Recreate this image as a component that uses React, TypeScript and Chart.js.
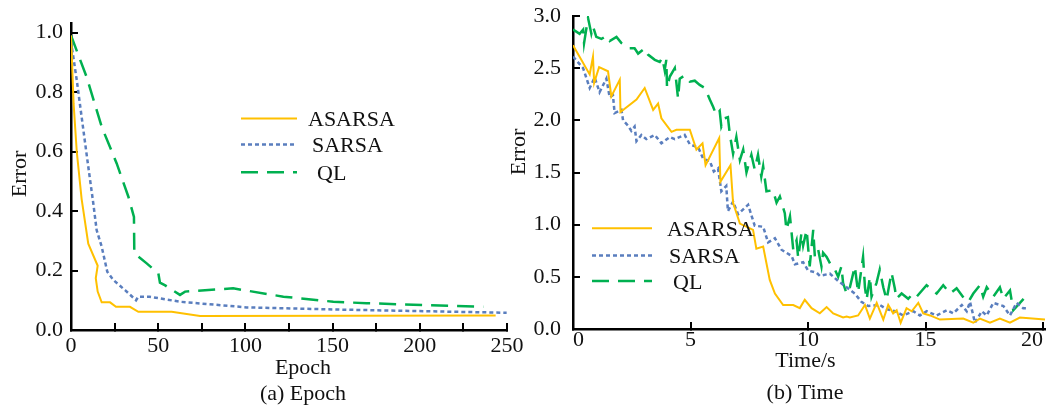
import React, { useEffect, useRef } from 'react';
import { Chart, registerables } from 'chart.js';

Chart.register(...registerables);

// ---------- (a) Epoch ----------
const epochAsarsaX = [0, 1.5, 3.3, 6.1, 9.9, 15.3, 14.2, 15.3, 17.6, 22.4, 25.8, 33.8, 38.6, 57.7, 74, 243.5];
const epochAsarsaY = [0.99, 0.76, 0.6, 0.44, 0.29, 0.216, 0.174, 0.129, 0.093, 0.093, 0.078, 0.078, 0.061, 0.061, 0.047, 0.049];
const epochSarsaX = [0, 3.3, 6.1, 9.4, 12.8, 14.7, 17.6, 20.8, 24.3, 31, 37.3, 38.6, 45, 62.5, 100.7, 150.4, 249.8];
const epochSarsaY = [0.97, 0.84, 0.716, 0.571, 0.425, 0.336, 0.28, 0.196, 0.168, 0.134, 0.1, 0.112, 0.112, 0.095, 0.076, 0.069, 0.058];
const epochQlX = [0, 9, 17.6, 26.2, 32.9, 36.1, 36.3, 43.4, 50.1, 51, 54, 62.5, 65.4, 93, 121.8, 150.4, 169.5, 236.4];
const epochQlY = [0.99, 0.85, 0.683, 0.56, 0.448, 0.38, 0.258, 0.224, 0.19, 0.159, 0.15, 0.118, 0.129, 0.14, 0.112, 0.095, 0.09, 0.078];

// ---------- (b) Time ----------
const timeAsarsaX = [0, 0.71, 0.85, 0.9, 1.11, 1.49, 1.63, 1.99, 2.02, 2.7, 3.05, 3.41, 3.62, 3.76, 4.19, 4.4, 4.97, 5.25, 5.51, 5.64, 6.22, 6.27, 6.7, 6.81, 7.1, 7.66, 7.8, 8.09, 8.37, 8.59, 8.94, 9.37, 9.65, 9.86, 10.15, 10.5, 10.79, 11.07, 11.49, 11.64, 11.78, 12.13, 12.42, 12.63, 12.92, 13.2, 13.41, 13.62, 13.77, 13.94, 14.19, 14.41, 14.69, 14.9, 15.19, 15.61, 16.6, 17.03, 17.31, 17.74, 18.16, 18.59, 19.01, 20.08];
const timeAsarsaY = [2.72, 2.44, 2.61, 2.36, 2.51, 2.47, 2.23, 2.39, 2.08, 2.2, 2.31, 2.1, 2.16, 2.02, 1.89, 1.91, 1.91, 1.72, 1.78, 1.57, 1.83, 1.41, 1.57, 1.21, 1.01, 0.95, 0.77, 0.79, 0.47, 0.34, 0.23, 0.23, 0.2, 0.28, 0.2, 0.15, 0.21, 0.15, 0.11, 0.12, 0.11, 0.13, 0.23, 0.1, 0.25, 0.09, 0.23, 0.15, 0.18, 0.06, 0.2, 0.17, 0.25, 0.15, 0.13, 0.09, 0.1, 0.06, 0.1, 0.06, 0.1, 0.06, 0.11, 0.09];
const timeSarsaX = [0, 0.43, 0.71, 0.92, 1.13, 1.42, 1.56, 1.7, 1.77, 2.06, 2.13, 2.34, 2.48, 2.62, 2.7, 2.91, 3.12, 3.48, 3.76, 4.12, 4.33, 4.75, 4.97, 5.33, 5.54, 5.82, 5.99, 6.17, 6.31, 6.52, 6.59, 6.81, 7.02, 7.45, 7.73, 8.09, 8.3, 8.59, 8.87, 9.3, 9.44, 9.79, 10.0, 10.36, 10.5, 10.93, 11.28, 11.64, 11.99, 12.27, 12.56, 13.06, 13.34, 13.7, 14.05, 14.48, 14.76, 15.05, 15.47, 15.9, 16.18, 16.54, 16.75, 16.89, 17.1, 17.39, 17.6, 17.88, 18.31, 18.59, 18.87, 19.15, 19.37];
const timeSarsaY = [2.61, 2.5, 2.31, 2.41, 2.27, 2.4, 2.22, 2.24, 2.07, 2.1, 2.0, 1.95, 1.9, 1.94, 1.8, 1.86, 1.82, 1.86, 1.78, 1.84, 1.82, 1.86, 1.77, 1.74, 1.63, 1.61, 1.51, 1.54, 1.32, 1.37, 1.13, 1.22, 1.1, 1.19, 0.99, 0.98, 0.83, 0.87, 0.76, 0.7, 0.62, 0.64, 0.56, 0.54, 0.51, 0.53, 0.46, 0.4, 0.34, 0.26, 0.22, 0.23, 0.19, 0.17, 0.13, 0.17, 0.13, 0.17, 0.13, 0.18, 0.15, 0.23, 0.17, 0.26, 0.06, 0.17, 0.13, 0.25, 0.22, 0.13, 0.25, 0.2, 0.2];
const timeQlX = [0, 0.14, 0.28, 0.43, 0.47, 0.64, 0.78, 0.85, 0.99, 1.21, 1.42, 1.56, 1.85, 2.06, 2.41, 2.62, 2.77, 3.05, 3.19, 3.48, 3.69, 3.8, 3.9, 3.97, 4.0, 4.12, 4.33, 4.47, 4.54, 4.75, 4.97, 5.18, 5.39, 5.61, 5.82, 5.96, 6.1, 6.24, 6.31, 6.45, 6.59, 6.67, 6.81, 6.95, 7.1, 7.24, 7.38, 7.59, 7.73, 7.87, 8.01, 8.09, 8.23, 8.51, 8.66, 8.8, 9.01, 9.08, 9.23, 9.37, 9.51, 9.58, 9.72, 9.79, 9.94, 10.07, 10.22, 10.29, 10.43, 10.57, 10.64, 10.79, 11.0, 11.14, 11.28, 11.42, 11.49, 11.64, 11.78, 11.99, 12.06, 12.13, 12.34, 12.42, 12.49, 12.63, 12.7, 12.91, 13.05, 13.2, 13.34, 13.55, 13.69, 13.76, 13.98, 14.26, 14.47, 14.62, 15.04, 15.47, 15.75, 16.04, 16.32, 16.68, 16.82, 17.03, 17.31, 17.45, 17.6, 17.88, 18.16, 18.31, 18.59, 18.73, 19.37];
const timeQlY = [2.87, 2.85, 2.83, 2.87, 2.74, 2.98, 2.83, 2.9, 2.8, 2.78, 2.81, 2.76, 2.8, 2.74, 2.69, 2.69, 2.64, 2.69, 2.63, 2.58, 2.56, 2.6, 2.48, 2.58, 2.31, 2.42, 2.5, 2.21, 2.4, 2.43, 2.37, 2.38, 2.34, 2.31, 2.2, 2.13, 2.05, 2.09, 1.94, 2.02, 2.03, 1.87, 1.68, 1.84, 1.62, 1.72, 1.5, 1.67, 1.53, 1.67, 1.46, 1.56, 1.32, 1.33, 1.21, 1.27, 1.11, 0.95, 1.08, 0.76, 0.85, 0.68, 0.92, 0.8, 0.95, 0.6, 0.95, 0.69, 0.76, 0.6, 0.73, 0.69, 0.6, 0.57, 0.5, 0.6, 0.44, 0.34, 0.4, 0.6, 0.47, 0.35, 0.69, 0.4, 0.28, 0.5, 0.31, 0.44, 0.57, 0.4, 0.28, 0.54, 0.39, 0.29, 0.34, 0.29, 0.34, 0.31, 0.42, 0.34, 0.42, 0.34, 0.39, 0.28, 0.26, 0.34, 0.42, 0.31, 0.4, 0.31, 0.4, 0.29, 0.37, 0.18, 0.34];

const seriesLabels = ['ASARSA', 'SARSA', 'QL'];
const epochTickLabels = ['0', '50', '100', '150', '200', '250'];

const FONT = "'Liberation Serif', 'Times New Roman', serif";
const YELLOW = '#FFC000';
const BLUE = '#5A7EBE';
const GREEN = '#00B050';
const INK = '#111111';

const pts = (xs: number[], ys: number[]) => xs.map((x, i) => ({ x, y: ys[i] }));

const overlayPlugin = {
  id: 'overlay',
  afterDraw(chart: any, _args: any, opts: any) {
    const ctx = chart.ctx;
    ctx.save();
    ctx.font = `22px ${FONT}`;
    ctx.fillStyle = INK;
    ctx.textBaseline = 'alphabetic';
    (opts.texts || []).forEach((t: any) => {
      ctx.save();
      ctx.translate(t.x, t.y);
      if (t.rotate) ctx.rotate(-Math.PI / 2);
      ctx.textAlign = 'center';
      ctx.fillText(t.text, 0, 0);
      ctx.restore();
    });
    (opts.legend || []).forEach((it: any, i: number) => {
      const ds = chart.data.datasets[i];
      ctx.save();
      ctx.strokeStyle = ds.borderColor;
      ctx.lineWidth = ds.borderWidth;
      ctx.setLineDash(ds.borderDash || []);
      ctx.beginPath();
      ctx.moveTo(it.x1, it.y);
      ctx.lineTo(it.x2, it.y);
      ctx.stroke();
      ctx.restore();
      ctx.textAlign = 'left';
      ctx.fillText(ds.label, it.tx, it.y + 7.5);
    });
    ctx.restore();
  },
};

function makeDatasets(a: any[], s: any[], q: any[]) {
  return [
    { label: seriesLabels[0], data: a, borderColor: YELLOW, borderWidth: 2, borderDash: [], pointRadius: 0, tension: 0, fill: false },
    { label: seriesLabels[1], data: s, borderColor: BLUE, borderWidth: 2.5, borderDash: [4, 3], pointRadius: 0, tension: 0, fill: false },
    { label: seriesLabels[2], data: q, borderColor: GREEN, borderWidth: 2.5, borderDash: [17, 9], pointRadius: 0, tension: 0, fill: false },
  ];
}

const tickFont = { family: FONT, size: 22 };
const axisBorder = { display: true, color: '#000', width: 2.5 };
const inwardTicks = { display: true, drawOnChartArea: false, drawTicks: true, tickLength: -7, tickColor: '#000', lineWidth: 2 };

const fitX = (h: number) => (s: any) => { s.height = h; s.paddingLeft = 0; s.paddingRight = 0; };
const fitY = (w: number) => (s: any) => { s.width = w; s.paddingTop = 0; s.paddingBottom = 0; };

function epochConfig(): any {
  return {
    type: 'line',
    data: { datasets: makeDatasets(pts(epochAsarsaX, epochAsarsaY), pts(epochSarsaX, epochSarsaY), pts(epochQlX, epochQlY)) },
    options: {
      animation: false,
      responsive: false,
      events: [],
      layout: { padding: { top: 23, right: 53, bottom: 0, left: 0 } },
      plugins: {
        legend: { display: false },
        tooltip: { enabled: false },
        overlay: {
          texts: [
            { text: 'Error', x: 26, y: 174, rotate: true },
            { text: 'Epoch', x: 303, y: 374 },
            { text: '(a) Epoch', x: 303, y: 400 },
          ],
          legend: [
            { x1: 241, x2: 297, y: 118.5, tx: 308 },
            { x1: 241, x2: 297, y: 144.5, tx: 312 },
            { x1: 241, x2: 297, y: 172.3, tx: 317 },
          ],
        },
      },
      scales: {
        x: {
          type: 'linear',
          min: 0,
          max: 250,
          afterFit: fitX(80),
          border: axisBorder,
          grid: inwardTicks,
          ticks: {
            stepSize: 25,
            padding: 10,
            color: INK,
            font: tickFont,
            maxRotation: 0,
            autoSkip: false,
            includeBounds: false,
            callback: (v: number) => (v % 50 === 0 ? epochTickLabels[v / 50] : ''),
          },
        },
        y: {
          type: 'linear',
          min: 0,
          max: 1.032,
          afterFit: fitY(71),
          border: axisBorder,
          grid: inwardTicks,
          ticks: { stepSize: 0.2, includeBounds: false, padding: 15, color: INK, font: tickFont, callback: (v: number) => v.toFixed(1) },
        },
      },
    },
    plugins: [overlayPlugin],
  };
}

function timeConfig(): any {
  return {
    type: 'line',
    data: { datasets: makeDatasets(pts(timeAsarsaX, timeAsarsaY), pts(timeSarsaX, timeSarsaY), pts(timeQlX, timeQlY)) },
    options: {
      animation: false,
      responsive: false,
      events: [],
      layout: { padding: { top: 16, right: 1, bottom: 0, left: 0 } },
      plugins: {
        legend: { display: false },
        tooltip: { enabled: false },
        overlay: {
          texts: [
            { text: 'Error', x: 25, y: 152, rotate: true },
            { text: 'Time/s', x: 305.5, y: 367 },
            { text: '(b) Time', x: 305, y: 399 },
          ],
          legend: [
            { x1: 92, x2: 152, y: 228.3, tx: 167 },
            { x1: 92, x2: 152, y: 255.5, tx: 169 },
            { x1: 92, x2: 152, y: 281, tx: 173 },
          ],
        },
      },
      scales: {
        x: {
          type: 'linear',
          min: 0,
          max: 20.08,
          afterFit: fitX(81),
          border: axisBorder,
          grid: inwardTicks,
          ticks: { stepSize: 5, includeBounds: false, padding: 5, align: 'inner', color: INK, font: tickFont, maxRotation: 0, callback: (v: number) => String(Math.round(v)) },
        },
        y: {
          type: 'linear',
          min: 0,
          max: 3,
          afterFit: fitY(73),
          border: axisBorder,
          grid: inwardTicks,
          ticks: { stepSize: 0.5, padding: 19, color: INK, font: tickFont, callback: (v: number) => v.toFixed(1) },
        },
      },
    },
    plugins: [overlayPlugin],
  };
}

function ChartCanvas({ make, left, width }: { make: () => any; left: number; width: number }) {
  const ref = useRef<HTMLCanvasElement>(null);
  useEffect(() => {
    const chart = new Chart(ref.current as HTMLCanvasElement, make());
    return () => chart.destroy();
  }, []);
  return (
    <canvas
      ref={ref}
      width={width}
      height={410}
      style={{ position: 'absolute', left, top: 0, width, height: 410 }}
    />
  );
}

export default function App() {
  return (
    <div style={{ position: 'absolute', left: 0, top: 0, width: 1046, height: 410, overflow: 'hidden', background: '#fff' }}>
      <ChartCanvas make={epochConfig} left={0} width={560} />
      <ChartCanvas make={timeConfig} left={500} width={546} />
    </div>
  );
}
